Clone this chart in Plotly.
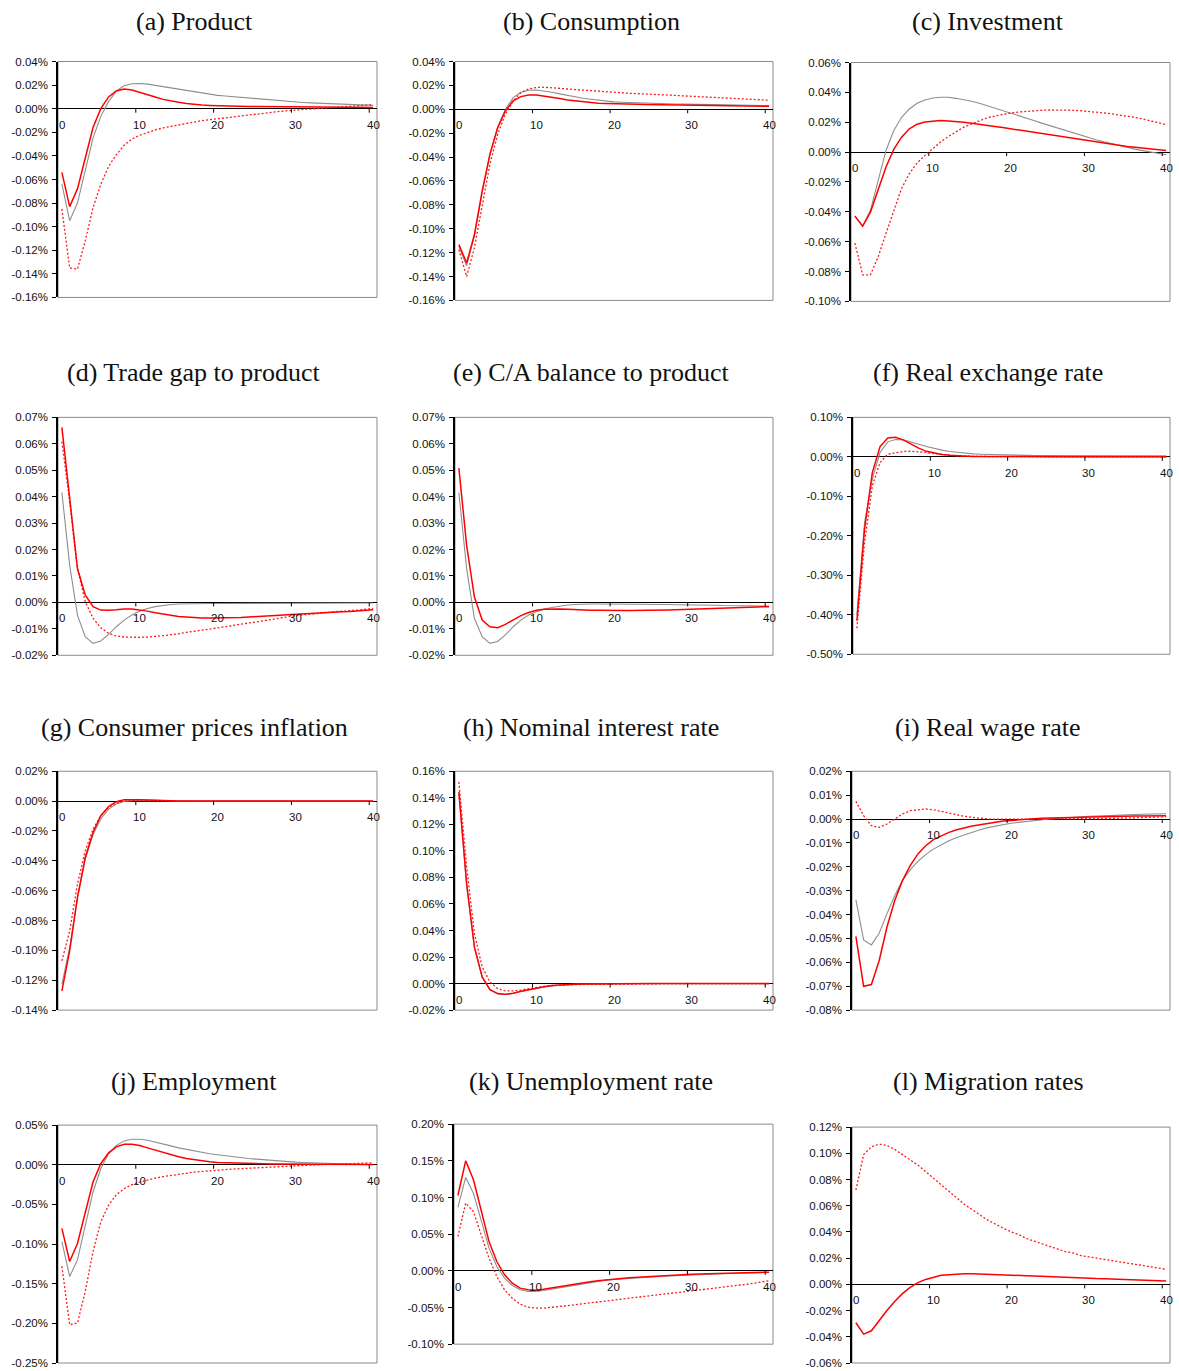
import plotly.graph_objects as go

W, H = 1179, 1371

# Quarters after the shock
periods = list(range(41))
x_labels = [0, 10, 20, 30, 40]

# ---- (a) Product -------------------------------------------------------
grey_a = [-0.064, -0.095, -0.080, -0.053, -0.025, -0.0065, 0.006, 0.015, 0.0194, 0.0211,
          0.0214, 0.0208, 0.0197, 0.0186, 0.0175, 0.0163, 0.0152, 0.0141, 0.0130, 0.0121,
          0.0113, 0.0107, 0.0101, 0.0096, 0.0090, 0.0085, 0.0079, 0.0073, 0.0067, 0.0062,
          0.0056, 0.0053, 0.0049, 0.0046, 0.0043, 0.0040, 0.0037, 0.0035, 0.0032, 0.0030, 0.0028]
red_a = [-0.054, -0.083, -0.068, -0.042, -0.016, 0.000, 0.010, 0.015, 0.0166, 0.0158,
         0.0140, 0.0118, 0.0099, 0.0079, 0.0065, 0.0054, 0.0045, 0.0037, 0.0031, 0.0028,
         0.0025, 0.0023, 0.0021, 0.0020, 0.0019, 0.0018, 0.0017, 0.0016, 0.0016, 0.0015,
         0.0015, 0.0014, 0.0014, 0.0013, 0.0013, 0.0013, 0.0012, 0.0012, 0.0012, 0.0012, 0.0011]
dot_a = [-0.085, -0.135, -0.136, -0.112, -0.084, -0.064, -0.049, -0.039, -0.031, -0.0256,
         -0.0225, -0.020, -0.018, -0.0163, -0.0149, -0.0135, -0.0124, -0.0113, -0.0101, -0.0093,
         -0.0082, -0.0075, -0.0068, -0.0060, -0.0052, -0.0045, -0.0038, -0.0031, -0.0023, -0.0017,
         -0.0010, -0.0006, -0.0003, 0.0000, 0.0005, 0.0011, 0.0016, 0.0020, 0.0025, 0.0030, 0.0034]
ticks_a = [-0.16, -0.14, -0.12, -0.10, -0.08, -0.06, -0.04, -0.02, 0.00, 0.02, 0.04]

# ---- (b) Consumption ---------------------------------------------------
grey_b = [-0.115, -0.131, -0.106, -0.070, -0.038, -0.015, 0.000, 0.0098, 0.0143, 0.0160,
          0.0162, 0.0154, 0.0143, 0.0129, 0.0115, 0.0104, 0.0092, 0.0084, 0.0076, 0.0067,
          0.0062, 0.0059, 0.0056, 0.0053, 0.0050, 0.0048, 0.0047, 0.0046, 0.0044, 0.0043,
          0.0042, 0.0041, 0.0040, 0.0039, 0.0037, 0.0036, 0.0035, 0.0034, 0.0033, 0.0032, 0.0031]
red_b = [-0.1133, -0.1287, -0.105, -0.0685, -0.0378, -0.0154, -0.0014, 0.0070, 0.0106, 0.0120,
         0.0120, 0.0112, 0.0100, 0.0090, 0.0078, 0.0070, 0.0062, 0.0056, 0.0050, 0.0048,
         0.0045, 0.0044, 0.0043, 0.0042, 0.0040, 0.0039, 0.0038, 0.0037, 0.0036, 0.0035,
         0.0034, 0.0033, 0.0032, 0.0031, 0.0031, 0.0030, 0.0029, 0.0028, 0.0027, 0.0026, 0.0025]
dot_b = [-0.1175, -0.140, -0.116, -0.080, -0.046, -0.021, -0.004, 0.007, 0.014, 0.017,
         0.0182, 0.0185, 0.0182, 0.0176, 0.0170, 0.0165, 0.0160, 0.0154, 0.0148, 0.0145,
         0.0140, 0.0137, 0.0134, 0.0131, 0.0129, 0.0126, 0.0123, 0.0119, 0.0116, 0.0112,
         0.0109, 0.0106, 0.0102, 0.0099, 0.0095, 0.0092, 0.0089, 0.0086, 0.0082, 0.0079, 0.0076]
ticks_b = [-0.16, -0.14, -0.12, -0.10, -0.08, -0.06, -0.04, -0.02, 0.00, 0.02, 0.04]

# ---- (c) Investment ----------------------------------------------------
grey_c = [-0.0429, -0.0496, -0.039, -0.019, 0.0011, 0.0144, 0.0233, 0.0289, 0.0327, 0.0349,
          0.0362, 0.0367, 0.0367, 0.0360, 0.0351, 0.0340, 0.0327, 0.0311, 0.0296, 0.0278,
          0.0260, 0.0244, 0.0227, 0.0211, 0.0194, 0.0178, 0.0161, 0.0144, 0.0127, 0.0111,
          0.0096, 0.0083, 0.0069, 0.0056, 0.0043, 0.0031, 0.0020, 0.0010, 0.0000, -0.0009, -0.0018]
red_c = [-0.0429, -0.0496, -0.0402, -0.0244, -0.010, 0.0018, 0.010, 0.0156, 0.0187, 0.0202,
         0.0209, 0.0211, 0.0209, 0.0207, 0.0200, 0.0193, 0.0187, 0.0180, 0.0171, 0.0164,
         0.0156, 0.0147, 0.0138, 0.0131, 0.0123, 0.0116, 0.0107, 0.0098, 0.0089, 0.0081,
         0.0073, 0.0065, 0.0057, 0.0049, 0.0043, 0.0038, 0.0032, 0.0026, 0.0020, 0.0015, 0.0011]
dot_c = [-0.061, -0.0822, -0.0822, -0.070, -0.0544, -0.039, -0.0244, -0.0144, -0.0073, -0.0022,
         0.0022, 0.0067, 0.0104, 0.0138, 0.0167, 0.0189, 0.0211, 0.0229, 0.0242, 0.0253,
         0.0262, 0.0268, 0.0273, 0.0277, 0.0280, 0.0282, 0.0283, 0.0282, 0.0280, 0.0277,
         0.0273, 0.0268, 0.0262, 0.0256, 0.0249, 0.0242, 0.0232, 0.0222, 0.0211, 0.0197, 0.0184]
ticks_c = [-0.10, -0.08, -0.06, -0.04, -0.02, 0.00, 0.02, 0.04, 0.06]

# ---- (d) Trade gap to product ------------------------------------------
grey_d = [0.0416, 0.0141, -0.0048, -0.0130, -0.0155, -0.0146, -0.0121, -0.0092, -0.0067, -0.0048,
          -0.0033, -0.0023, -0.0016, -0.0011, -0.0008, -0.0006, -0.0005, -0.0004, -0.0004, -0.0004,
          -0.0004, -0.0004, -0.0004, -0.0004, -0.0004, -0.0004, -0.0003, -0.0003, -0.0003, -0.0003,
          -0.0003, -0.0003, -0.0003, -0.0003, -0.0002, -0.0002, -0.0002, -0.0002, -0.0002, -0.0002, -0.0002]
red_d = [0.0662, 0.0406, 0.0128, 0.0028, -0.0016, -0.0029, -0.0030, -0.0028, -0.0025, -0.0025,
         -0.0028, -0.0033, -0.0039, -0.0044, -0.0049, -0.0053, -0.0055, -0.0058, -0.0059, -0.0059,
         -0.0059, -0.0059, -0.0058, -0.0057, -0.0055, -0.0054, -0.0052, -0.0051, -0.0049, -0.0047,
         -0.0045, -0.0043, -0.0042, -0.0040, -0.0038, -0.0037, -0.0035, -0.0034, -0.0032, -0.0030, -0.0028]
dot_d = [0.0608, 0.0380, 0.0128, 0.0003, -0.0060, -0.0096, -0.0117, -0.0127, -0.0131, -0.0132,
         -0.0132, -0.0131, -0.0129, -0.0126, -0.0122, -0.0119, -0.0113, -0.0110, -0.0105, -0.0101,
         -0.0096, -0.0092, -0.0088, -0.0083, -0.0078, -0.0074, -0.0069, -0.0065, -0.0060, -0.0055,
         -0.0050, -0.0047, -0.0045, -0.0042, -0.0038, -0.0035, -0.0033, -0.0031, -0.0029, -0.0026, -0.0023]
ticks_d = [-0.02, -0.01, 0.00, 0.01, 0.02, 0.03, 0.04, 0.05, 0.06, 0.07]

# ---- (e) C/A balance to product ----------------------------------------
grey_e = [0.0415, 0.0128, -0.0060, -0.0130, -0.0155, -0.0148, -0.0123, -0.0092, -0.0067, -0.0048,
          -0.0035, -0.0025, -0.0019, -0.0014, -0.0010, -0.0008, -0.0006, -0.0006, -0.0006, -0.0006,
          -0.0006, -0.0006, -0.0006, -0.0007, -0.0007, -0.0007, -0.0008, -0.0008, -0.0009, -0.0009,
          -0.0010, -0.0010, -0.0011, -0.0011, -0.0012, -0.0012, -0.0013, -0.0013, -0.0014, -0.0014, -0.0014]
red_e = [0.0508, 0.0216, 0.0021, -0.0067, -0.0092, -0.0096, -0.0083, -0.0067, -0.0050, -0.0038,
         -0.0030, -0.0026, -0.0025, -0.0025, -0.0026, -0.0028, -0.0029, -0.0030, -0.0030, -0.0031,
         -0.0031, -0.0031, -0.0031, -0.0031, -0.0030, -0.0030, -0.0030, -0.0029, -0.0028, -0.0027,
         -0.0025, -0.0024, -0.0023, -0.0022, -0.0021, -0.0020, -0.0019, -0.0018, -0.0017, -0.0017, -0.0016]
ticks_e = [-0.02, -0.01, 0.00, 0.01, 0.02, 0.03, 0.04, 0.05, 0.06, 0.07]

# ---- (f) Real exchange rate --------------------------------------------
grey_f = [-0.400, -0.166, -0.056, 0.011, 0.038, 0.044, 0.043, 0.038, 0.032, 0.026,
          0.021, 0.017, 0.0134, 0.011, 0.0092, 0.0076, 0.0067, 0.0060, 0.0050, 0.0045,
          0.0040, 0.0039, 0.0038, 0.0036, 0.0035, 0.0034, 0.0033, 0.0032, 0.0031, 0.0030,
          0.0029, 0.0028, 0.0028, 0.0027, 0.0027, 0.0026, 0.0026, 0.0025, 0.0025, 0.0025, 0.0025]
red_f = [-0.415, -0.182, -0.040, 0.026, 0.048, 0.0496, 0.043, 0.032, 0.022, 0.014,
         0.0092, 0.0060, 0.0040, 0.0025, 0.0017, 0.0010, 0.0008, 0.0006, 0.0005, 0.0005,
         0.0004, 0.0004, 0.0004, 0.0004, 0.0004, 0.0004, 0.0004, 0.0004, 0.0004, 0.0004,
         0.0004, 0.0003, 0.0003, 0.0003, 0.0003, 0.0003, 0.0002, 0.0002, 0.0002, 0.0002, 0.0002]
dot_f = [-0.434, -0.216, -0.073, -0.014, 0.0067, 0.011, 0.0134, 0.0143, 0.0134, 0.011,
         0.0084, 0.0060, 0.0040, 0.0025, 0.0017, 0.0010, 0.0008, 0.0006, 0.0005, 0.0004,
         0.0003, 0.0002, 0.0002, 0.0002, 0.0002, 0.0002, 0.0002, 0.0002, 0.0002, 0.0002,
         0.0001, 0.0001, 0.0001, 0.0001, 0.0001, 0.0001, 0.0001, 0.0001, 0.0001, 0.0001, 0.0001]
ticks_f = [-0.50, -0.40, -0.30, -0.20, -0.10, 0.00, 0.10]

# ---- (g) Consumer prices inflation -------------------------------------
grey_g = [-0.1227, -0.0980, -0.0646, -0.0390, -0.0226, -0.0120, -0.0054, -0.0020, -0.0002, 0.0004,
          0.0007, 0.0007, 0.0004, 0.0002, 0.0001, 0.0000, 0.0000, 0.0000, 0.0000, 0.0000,
          0.0000, 0.0000, 0.0000, 0.0000, 0.0000, 0.0000, 0.0000, 0.0000, 0.0000, 0.0000,
          0.0000, 0.0000, 0.0000, 0.0000, 0.0000, 0.0000, 0.0000, 0.0000, 0.0000, 0.0000, 0.0000]
red_g = [-0.1271, -0.1003, -0.0646, -0.0378, -0.0210, -0.0098, -0.0036, -0.0004, 0.0009, 0.0011,
         0.0009, 0.0007, 0.0004, 0.0002, 0.0001, 0.0000, 0.0000, 0.0000, 0.0000, 0.0000,
         0.0000, 0.0000, 0.0000, 0.0000, 0.0000, 0.0000, 0.0000, 0.0000, 0.0000, 0.0000,
         0.0000, 0.0000, 0.0000, 0.0000, 0.0000, 0.0000, 0.0000, 0.0000, 0.0000, 0.0000, 0.0000]
dot_g = [-0.1070, -0.0870, -0.0556, -0.0333, -0.0188, -0.0098, -0.0042, -0.0013, 0.0000, 0.0004,
         0.0004, 0.0002, 0.0001, 0.0000, 0.0000, 0.0000, 0.0000, 0.0000, 0.0000, 0.0000,
         0.0000, 0.0000, 0.0000, 0.0000, 0.0000, 0.0000, 0.0000, 0.0000, 0.0000, 0.0000,
         0.0000, 0.0000, 0.0000, 0.0000, 0.0000, 0.0000, 0.0000, 0.0000, 0.0000, 0.0000, 0.0000]
ticks_g = [-0.14, -0.12, -0.10, -0.08, -0.06, -0.04, -0.02, 0.00, 0.02]

# ---- (h) Nominal interest rate -----------------------------------------
grey_h = [0.1430, 0.0740, 0.0270, 0.0050, -0.0045, -0.0078, -0.0082, -0.0075, -0.0060, -0.0047,
          -0.0035, -0.0025, -0.0017, -0.0011, -0.0008, -0.0006, -0.0004, -0.0003, -0.0002, -0.0002,
          -0.0001, -0.0001, -0.0001, 0.0000, 0.0000, 0.0000, 0.0000, 0.0000, 0.0000, 0.0000,
          0.0000, 0.0000, 0.0000, 0.0000, 0.0000, 0.0000, 0.0000, 0.0000, 0.0000, 0.0000, 0.0000]
red_h = [0.1445, 0.0754, 0.0276, 0.0050, -0.0045, -0.0075, -0.0080, -0.0073, -0.0058, -0.0045,
         -0.0033, -0.0023, -0.0015, -0.0010, -0.0008, -0.0005, -0.0004, -0.0003, -0.0002, -0.0002,
         -0.0001, -0.0001, -0.0001, 0.0000, 0.0000, 0.0000, 0.0000, 0.0000, 0.0000, 0.0000,
         0.0000, 0.0000, 0.0000, 0.0000, 0.0000, 0.0000, 0.0000, 0.0000, 0.0000, 0.0000, 0.0000]
dot_h = [0.1520, 0.0880, 0.0377, 0.0126, 0.0013, -0.0038, -0.0055, -0.0055, -0.0048, -0.0038,
         -0.0028, -0.0020, -0.0015, -0.0010, -0.0008, -0.0007, -0.0006, -0.0005, -0.0005, -0.0004,
         -0.0004, -0.0003, -0.0003, -0.0002, -0.0002, -0.0002, -0.0001, -0.0001, -0.0001, -0.0001,
         0.0000, 0.0000, 0.0000, 0.0000, 0.0000, 0.0000, 0.0000, 0.0000, 0.0000, 0.0000, 0.0000]
ticks_h = [-0.02, 0.00, 0.02, 0.04, 0.06, 0.08, 0.10, 0.12, 0.14, 0.16]

# ---- (i) Real wage rate ------------------------------------------------
grey_i = [-0.0338, -0.0506, -0.0527, -0.0478, -0.0397, -0.0321, -0.0258, -0.0213, -0.0177, -0.0149,
          -0.0126, -0.0107, -0.0091, -0.0077, -0.0066, -0.0054, -0.0045, -0.0036, -0.0029, -0.0024,
          -0.0018, -0.0014, -0.0010, -0.0007, -0.0003, 0.0000, 0.0002, 0.0005, 0.0007, 0.0009,
          0.0011, 0.0012, 0.0014, 0.0015, 0.0016, 0.0018, 0.0019, 0.0020, 0.0021, 0.0021, 0.0022]
red_i = [-0.0491, -0.0700, -0.0693, -0.0593, -0.0453, -0.0342, -0.0258, -0.0195, -0.0146, -0.0112,
         -0.0086, -0.0070, -0.0056, -0.0045, -0.0036, -0.0029, -0.0024, -0.0018, -0.0013, -0.0008,
         -0.0006, -0.0003, 0.0000, 0.0001, 0.0003, 0.0004, 0.0005, 0.0006, 0.0007, 0.0009,
         0.0010, 0.0011, 0.0011, 0.0012, 0.0012, 0.0013, 0.0013, 0.0013, 0.0014, 0.0014, 0.0014]
dot_i = [0.0074, 0.0014, -0.0028, -0.0035, -0.0021, 0.0000, 0.0021, 0.0035, 0.0040, 0.0042,
         0.0039, 0.0033, 0.0025, 0.0018, 0.0011, 0.0007, 0.0003, 0.0000, -0.0001, -0.0001,
         -0.0001, -0.0001, -0.0001, -0.0001, -0.0001, -0.0001, -0.0001, 0.0000, 0.0000, 0.0000,
         0.0000, 0.0001, 0.0002, 0.0003, 0.0003, 0.0004, 0.0005, 0.0006, 0.0007, 0.0008, 0.0010]
ticks_i = [-0.08, -0.07, -0.06, -0.05, -0.04, -0.03, -0.02, -0.01, 0.00, 0.01, 0.02]

# ---- (j) Employment ----------------------------------------------------
grey_j = [-0.097, -0.141, -0.120, -0.076, -0.0343, -0.0050, 0.0138, 0.0243, 0.0301, 0.0322,
          0.0322, 0.0310, 0.0289, 0.0264, 0.0238, 0.0213, 0.0192, 0.0172, 0.0155, 0.0138,
          0.0126, 0.0113, 0.0100, 0.0090, 0.0080, 0.0071, 0.0062, 0.0054, 0.0046, 0.0039,
          0.0033, 0.0029, 0.0025, 0.0021, 0.0017, 0.0013, 0.0010, 0.0007, 0.0004, 0.0002, 0.0000]
red_j = [-0.0803, -0.122, -0.0992, -0.0615, -0.0218, 0.0013, 0.0150, 0.0226, 0.0259, 0.0259,
         0.0243, 0.0213, 0.0184, 0.0155, 0.0126, 0.0100, 0.0079, 0.0063, 0.0050, 0.0038,
         0.0029, 0.0025, 0.0021, 0.0018, 0.0015, 0.0013, 0.0012, 0.0011, 0.0010, 0.0009,
         0.0008, 0.0007, 0.0007, 0.0006, 0.0006, 0.0005, 0.0005, 0.0005, 0.0004, 0.0004, 0.0004]
dot_j = [-0.128, -0.2017, -0.1996, -0.160, -0.1096, -0.072, -0.051, -0.0377, -0.0301, -0.0251,
         -0.0218, -0.0192, -0.0167, -0.0150, -0.0134, -0.0117, -0.0105, -0.0092, -0.0084, -0.0075,
         -0.0067, -0.0060, -0.0054, -0.0049, -0.0043, -0.0038, -0.0032, -0.0027, -0.0021, -0.0017,
         -0.0013, -0.0008, -0.0004, 0.0000, 0.0002, 0.0004, 0.0008, 0.0013, 0.0017, 0.0021, 0.0025]
ticks_j = [-0.25, -0.20, -0.15, -0.10, -0.05, 0.00, 0.05]

# ---- (k) Unemployment rate ---------------------------------------------
grey_k = [0.0864, 0.1273, 0.1059, 0.0673, 0.0309, 0.0059, -0.0100, -0.0200, -0.0259, -0.0282,
          -0.0282, -0.0268, -0.0250, -0.0227, -0.0209, -0.0191, -0.0173, -0.0155, -0.0141, -0.0127,
          -0.0118, -0.0110, -0.0103, -0.0096, -0.0089, -0.0082, -0.0077, -0.0071, -0.0066, -0.0060,
          -0.0055, -0.0051, -0.0047, -0.0043, -0.0040, -0.0036, -0.0033, -0.0030, -0.0028, -0.0025, -0.0023]
red_k = [0.1027, 0.1500, 0.1241, 0.0809, 0.0400, 0.0127, -0.0055, -0.0168, -0.0236, -0.0259,
         -0.0264, -0.0250, -0.0232, -0.0214, -0.0195, -0.0177, -0.0164, -0.0150, -0.0136, -0.0123,
         -0.0114, -0.0104, -0.0095, -0.0088, -0.0080, -0.0073, -0.0067, -0.0061, -0.0055, -0.0050,
         -0.0045, -0.0042, -0.0039, -0.0036, -0.0034, -0.0032, -0.0029, -0.0026, -0.0023, -0.0020, -0.0018]
dot_k = [0.0468, 0.0923, 0.0809, 0.0491, 0.0173, -0.0077, -0.0259, -0.0373, -0.0455, -0.0495,
         -0.0509, -0.0509, -0.0500, -0.0491, -0.0477, -0.0464, -0.0450, -0.0436, -0.0423, -0.0409,
         -0.0395, -0.0384, -0.0373, -0.0361, -0.0348, -0.0336, -0.0324, -0.0312, -0.0300, -0.0288,
         -0.0277, -0.0265, -0.0253, -0.0241, -0.0230, -0.0210, -0.0200, -0.0185, -0.0170, -0.0150, -0.0135]
ticks_k = [-0.10, -0.05, 0.00, 0.05, 0.10, 0.15, 0.20]

# ---- (l) Migration rates -----------------------------------------------
red_l = [-0.0293, -0.0380, -0.0354, -0.0275, -0.0199, -0.0130, -0.0071, -0.0023, 0.0013, 0.0038,
         0.0056, 0.0069, 0.0074, 0.0079, 0.0082, 0.0082, 0.0079, 0.0079, 0.0076, 0.0074,
         0.0071, 0.0069, 0.0066, 0.0064, 0.0061, 0.0059, 0.0056, 0.0054, 0.0051, 0.0049,
         0.0046, 0.0044, 0.0043, 0.0041, 0.0039, 0.0036, 0.0035, 0.0033, 0.0031, 0.0028, 0.0025]
dot_l = [0.072, 0.099, 0.105, 0.107, 0.106, 0.103, 0.099, 0.095, 0.091, 0.086,
         0.081, 0.076, 0.071, 0.066, 0.061, 0.057, 0.053, 0.049, 0.046, 0.043,
         0.040, 0.038, 0.035, 0.033, 0.031, 0.029, 0.027, 0.025, 0.024, 0.022,
         0.021, 0.020, 0.019, 0.018, 0.017, 0.016, 0.015, 0.014, 0.013, 0.012, 0.0115]
ticks_l = [-0.06, -0.04, -0.02, 0.00, 0.02, 0.04, 0.06, 0.08, 0.10, 0.12]

# Panel list: title, plot-area box in layout pixels (left, right, top, bottom), y ticks, series
panels = [
    ("(a) Product", (58, 377, 56, 294), ticks_a, dict(grey=grey_a, dot=dot_a, red=red_a)),
    ("(b) Consumption", (455, 773, 56, 297), ticks_b, dict(grey=grey_b, dot=dot_b, red=red_b)),
    ("(c) Investment", (851, 1170, 57, 298), ticks_c, dict(grey=grey_c, dot=dot_c, red=red_c)),
    ("(d) Trade gap to product", (58, 377, 415, 655), ticks_d, dict(grey=grey_d, dot=dot_d, red=red_d)),
    ("(e) C/A balance to product", (455, 773, 415, 655), ticks_e, dict(grey=grey_e, red=red_e)),
    ("(f) Real exchange rate", (853, 1170, 415, 654), ticks_f, dict(grey=grey_f, dot=dot_f, red=red_f)),
    ("(g) Consumer prices inflation", (58, 377, 772, 1013), ticks_g, dict(grey=grey_g, dot=dot_g, red=red_g)),
    ("(h) Nominal interest rate", (455, 773, 772, 1013), ticks_h, dict(grey=grey_h, dot=dot_h, red=red_h)),
    ("(i) Real wage rate", (852, 1170, 772, 1013), ticks_i, dict(grey=grey_i, dot=dot_i, red=red_i)),
    ("(j) Employment", (58, 377, 1129, 1369), ticks_j, dict(grey=grey_j, dot=dot_j, red=red_j)),
    ("(k) Unemployment rate", (454, 773, 1128, 1350), ticks_k, dict(grey=grey_k, dot=dot_k, red=red_k)),
    ("(l) Migration rates", (852, 1170, 1131, 1369), ticks_l, dict(dot=dot_l, red=red_l)),
]

# Title centres (x of each column, y of each row), layout pixels
title_x = [194, 591, 988]
title_y = [15.5, 369.5, 727.5, 1085]

styles = {
    "grey": dict(color="#8e8e8e", width=1.1, dash="solid"),
    "dot": dict(color="#ff1a1a", width=1.3, dash="2px,2px"),
    "red": dict(color="#ff0000", width=1.5, dash="solid"),
}

TICK_FONT = dict(family="Liberation Sans, Arial, sans-serif", size=11.5, color="#111111")
TITLE_FONT = dict(family="Liberation Serif, Times New Roman, serif", size=26, color="#111111")

fig = go.Figure()
layout = dict(
    width=W, height=H, autosize=False,
    margin=dict(l=0, r=0, t=0, b=0),
    paper_bgcolor="white", plot_bgcolor="white",
    showlegend=False,
)
shapes, annotations = [], []

for i, (title, (l, r, t, b), yticks, series) in enumerate(panels):
    sfx = "" if i == 0 else str(i + 1)
    xa, ya = f"xaxis{sfx}", f"yaxis{sfx}"
    xr, yr = f"x{sfx}", f"y{sfx}"

    for key in ("grey", "dot", "red"):
        if key in series:
            st = styles[key]
            fig.add_trace(go.Scatter(
                x=periods, y=series[key], mode="lines", xaxis=xr, yaxis=yr,
                line=dict(color=st["color"], width=st["width"], dash=st["dash"]),
                hoverinfo="skip",
            ))

    layout[xa] = dict(
        domain=[l / W, r / W], anchor=yr, range=[-0.5, 40.5],
        showgrid=False, zeroline=False, showline=False, showticklabels=False, ticks="",
    )
    layout[ya] = dict(
        domain=[1 - b / H, 1 - t / H], anchor=xr, range=[yticks[0], yticks[-1]],
        tickvals=yticks, ticktext=[f"{v:.2f}%" for v in yticks],
        showgrid=False, zeroline=True, zerolinecolor="#000000", zerolinewidth=1,
        showline=True, linecolor="#000000", linewidth=1.5,
        ticks="outside", ticklen=4, tickwidth=1, tickcolor="#000000",
        ticklabelstandoff=2, tickfont=TICK_FONT,
    )

    # grey frame of the plot area
    shapes.append(dict(type="rect", xref=f"{xr} domain", yref=f"{yr} domain",
                       x0=0, x1=1, y0=0, y1=1, line=dict(color="#8a8a8a", width=1),
                       layer="below"))

    # horizontal-axis labels on the zero line, tick marks on category boundaries
    for v in x_labels:
        annotations.append(dict(x=v, y=0, xref=xr, yref=yr, text=str(v), showarrow=False,
                                xanchor="center", yanchor="top", yshift=-8, font=TICK_FONT))
        if v > 0:
            shapes.append(dict(type="line", xref=xr, yref=yr, ysizemode="pixel", yanchor=0,
                               x0=v - 0.5, x1=v - 0.5, y0=0, y1=-4,
                               line=dict(color="#000000", width=1)))

    # panel title
    annotations.append(dict(x=title_x[i % 3] / W, y=1 - title_y[i // 3] / H,
                            xref="paper", yref="paper", text=title, showarrow=False,
                            xanchor="center", yanchor="middle", font=TITLE_FONT))

layout["shapes"] = shapes
layout["annotations"] = annotations
fig.update_layout(**layout)
fig.write_html("out.html")
